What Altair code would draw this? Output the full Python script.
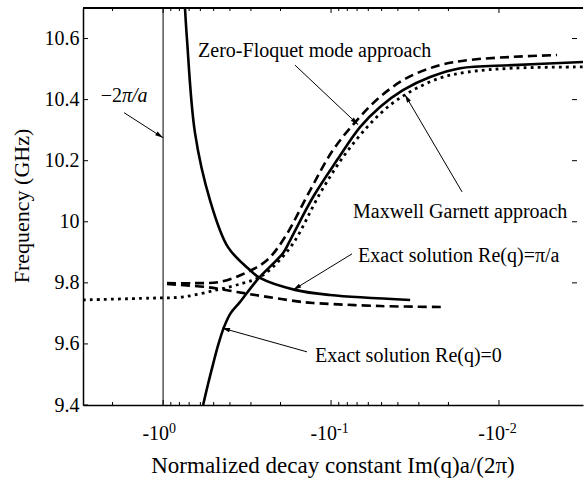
import math
import altair as alt
import pandas as pd

W, H = 500, 397
XMIN, XMAX = 0.00316, 3.0
YMIN, YMAX = 9.4, 10.7
FONT = "Liberation Serif, Times New Roman, DejaVu Serif, serif"

# ---- curve data: x = |Im(q) a / (2 pi)|, f = frequency (GHz) ----
exact_pi_x = [0.741, 0.721, 0.646, 0.526, 0.411, 0.304, 0.265, 0.164, 0.1014, 0.0338]
exact_pi_f = [10.700, 10.598, 10.291, 10.071, 9.917, 9.842, 9.816, 9.777, 9.760, 9.744]

exact_0_x = [0.578, 0.540, 0.504, 0.468, 0.434, 0.397, 0.350, 0.272, 0.193, 0.175, 0.128,
             0.0921, 0.0672, 0.0511, 0.0373, 0.0257, 0.0170, 0.00824, 0.00316]
exact_0_f = [9.400, 9.469, 9.534, 9.600, 9.655, 9.700, 9.736, 9.813, 9.898, 9.940, 10.081,
             10.202, 10.310, 10.376, 10.431, 10.474, 10.503, 10.513, 10.523]

zf_up_x = [0.948, 0.646, 0.458, 0.316, 0.240, 0.188, 0.133, 0.0973, 0.0700, 0.0511,
           0.0353, 0.0224, 0.0149, 0.00824, 0.00451]
zf_up_f = [9.799, 9.799, 9.803, 9.835, 9.875, 9.950, 10.104, 10.235, 10.333, 10.409,
           10.471, 10.513, 10.530, 10.540, 10.546]

zf_low_x = [0.948, 0.548, 0.363, 0.240, 0.147, 0.128, 0.0511, 0.0215]
zf_low_f = [9.796, 9.786, 9.770, 9.754, 9.737, 9.734, 9.724, 9.721]

mg_x = [3.0, 1.197, 0.76, 0.478, 0.334, 0.265, 0.210, 0.166, 0.116, 0.0848, 0.0610,
        0.0445, 0.0325, 0.0224, 0.0155, 0.00824, 0.00316]
mg_f = [9.744, 9.750, 9.754, 9.777, 9.799, 9.819, 9.865, 9.934, 10.094, 10.212, 10.310,
        10.382, 10.431, 10.471, 10.490, 10.503, 10.507]

bound_x = [1.0]  # -2*pi/a

# axis ticks
y_ticks = [9.4, 9.6, 9.8, 10.0, 10.2, 10.4, 10.6]
y_ticks_right = [9.8, 10.0, 10.2, 10.4, 10.6]
x_major = [1.0, 0.1, 0.01]
x_minor = [2.0, 0.9, 0.8, 0.7, 0.6, 0.5, 0.4, 0.3, 0.2,
           0.09, 0.08, 0.07, 0.06, 0.05, 0.04, 0.03, 0.02]
x_exp = ["0", "-1", "-2"]

# annotations
ann_text = ["Zero-Floquet mode approach", "Maxwell Garnett approach",
            "Exact solution Re(q)=\u03c0/a", "Exact solution Re(q)=0"]
ann_tx = [0.619, 0.074, 0.069, 0.1245]
ann_tf = [10.538, 10.013, 9.869, 9.541]

arrow_x0 = [1.706, 0.164, 0.0166, 0.075, 0.139]
arrow_f0 = [10.357, 10.513, 10.098, 9.895, 9.574]
arrow_x1 = [1.0, 0.069, 0.0363, 0.168, 0.446]
arrow_f1 = [10.275, 10.318, 10.416, 9.777, 9.652]

bound_label_a = ["\u22122"]
bound_label_b = ["\u03c0/a"]
bound_lx = [1.757]
bound_lf = [10.392]


def to_px(x):
    return (math.log10(XMAX) - math.log10(x)) / (math.log10(XMAX) - math.log10(XMIN)) * W


def to_py(f):
    return (YMAX - f) / (YMAX - YMIN) * H


def curve(xs, fs, name):
    return pd.DataFrame({"x": xs, "f": fs, "series": name, "i": range(len(xs))})


xscale = alt.Scale(type="log", domain=[XMIN, XMAX], reverse=True)
yscale = alt.Scale(domain=[YMIN, YMAX], nice=False, zero=False)

X = lambda f="x": alt.X(f"{f}:Q", scale=xscale,
                       axis=alt.Axis(labels=False, ticks=False, grid=False, title=None,
                                     domainColor="black", domainWidth=1.5))
Y = lambda f="f": alt.Y(f"{f}:Q", scale=yscale,
                       axis=alt.Axis(values=y_ticks, format="~g", ticks=False, grid=False,
                                     title=None, labelFont=FONT, labelFontSize=20,
                                     labelColor="black", labelPadding=4,
                                     domainColor="black", domainWidth=1.5))

solid_df = pd.concat([curve(exact_pi_x, exact_pi_f, "pi"), curve(exact_0_x, exact_0_f, "zero")])
dash_df = pd.concat([curve(zf_up_x, zf_up_f, "up"), curve(zf_low_x, zf_low_f, "low")])
dot_df = curve(mg_x, mg_f, "mg")

INTERP = "catmull-rom"
solid = alt.Chart(solid_df).mark_line(color="black", strokeWidth=2.6, interpolate=INTERP).encode(
    x=X(), y=Y(), detail="series:N", order="i:Q")
dashed = alt.Chart(dash_df).mark_line(color="black", strokeWidth=2.6, strokeDash=[9, 5],
                                      interpolate=INTERP).encode(
    x=X(), y=Y(), detail="series:N", order="i:Q")
dotted = alt.Chart(dot_df).mark_line(color="black", strokeWidth=2.8, strokeDash=[2.8, 4.2],
                                     interpolate=INTERP).encode(
    x=X(), y=Y(), order="i:Q")

bound = alt.Chart(pd.DataFrame({"x": bound_x})).mark_rule(color="#555555", strokeWidth=1.5).encode(
    x=X(), y=alt.value(0), y2=alt.value(H))

# frame top line
top = alt.Chart(pd.DataFrame({"x": [XMAX]})).mark_rule(color="black", strokeWidth=2).encode(
    x=alt.value(0), x2=alt.value(W), y=alt.value(0))

# ticks (inward)
xmaj = pd.DataFrame({"x": x_major})
xmin_df = pd.DataFrame({"x": x_minor})
tick_layers = [
    alt.Chart(xmaj).mark_rule(color="black", strokeWidth=1).encode(x=X(), y=alt.value(H), y2=alt.value(H - 5)),
    alt.Chart(xmaj).mark_rule(color="black", strokeWidth=1).encode(x=X(), y=alt.value(0), y2=alt.value(5)),
    alt.Chart(xmin_df).mark_rule(color="black", strokeWidth=1).encode(x=X(), y=alt.value(H), y2=alt.value(H - 3)),
    alt.Chart(xmin_df).mark_rule(color="black", strokeWidth=1).encode(x=X(), y=alt.value(0), y2=alt.value(3)),
    alt.Chart(pd.DataFrame({"f": y_ticks})).mark_rule(color="black", strokeWidth=1).encode(
        y=Y(), x=alt.value(0), x2=alt.value(5)),
    alt.Chart(pd.DataFrame({"f": y_ticks_right})).mark_rule(color="black", strokeWidth=1).encode(
        y=Y(), x=alt.value(489), x2=alt.value(494)),
]

# x tick labels -10^n
lab_df = pd.DataFrame({"x": x_major, "base": ["-10"] * 3, "exp": x_exp})
lab_base = alt.Chart(lab_df).mark_text(font=FONT, fontSize=20, align="right", baseline="alphabetic",
                                       dx=6, color="black").encode(
    x=X(), y=alt.value(432), text="base:N")
lab_exp = alt.Chart(lab_df).mark_text(font=FONT, fontSize=14, align="left", baseline="alphabetic",
                                      dx=6, color="black").encode(
    x=X(), y=alt.value(425), text="exp:N")

# axis titles
xtitle = alt.Chart(pd.DataFrame({"t": ["Normalized decay constant  Im(q)a/(2\u03c0)"]})).mark_text(
    font=FONT, fontSize=23, align="center", baseline="alphabetic", color="black").encode(
    x=alt.value(W / 2), y=alt.value(465), text="t:N")
ytitle = alt.Chart(pd.DataFrame({"t": ["Frequency (GHz)"]})).mark_text(
    font=FONT, fontSize=22, align="center", baseline="middle", angle=270, color="black").encode(
    x=alt.value(-61), y=alt.value(198), text="t:N")

# annotations
ann_df = pd.DataFrame({"x": ann_tx, "f": ann_tf, "t": ann_text})
ann = alt.Chart(ann_df).mark_text(font=FONT, fontSize=20, align="left", baseline="alphabetic",
                                  color="black").encode(x=X(), y=Y(), text="t:N")
bl_a = alt.Chart(pd.DataFrame({"x": bound_lx, "f": bound_lf, "t": bound_label_a})).mark_text(
    font=FONT, fontSize=20, align="right", baseline="alphabetic", color="black").encode(
    x=X(), y=Y(), text="t:N")
bl_b = alt.Chart(pd.DataFrame({"x": bound_lx, "f": bound_lf, "t": bound_label_b})).mark_text(
    font=FONT, fontSize=20, fontStyle="italic", align="left", baseline="alphabetic",
    color="black").encode(x=X(), y=Y(), text="t:N")

angles = []
for a0, b0, a1, b1 in zip(arrow_x0, arrow_f0, arrow_x1, arrow_f1):
    dxp = to_px(a1) - to_px(a0)
    dyp = to_py(b1) - to_py(b0)
    angles.append(math.degrees(math.atan2(dyp, dxp)) % 360)
arr_df = pd.DataFrame({"x": arrow_x0, "f": arrow_f0, "x2": arrow_x1, "f2": arrow_f1, "ang": angles})
arr_lines = alt.Chart(arr_df).mark_rule(color="black", strokeWidth=1).encode(
    x=X(), y=Y(), x2="x2:Q", y2="f2:Q")
arr_heads = alt.Chart(arr_df).mark_point(shape="M0,0L-2,-0.55L-2,0.55Z", filled=True, color="black",
                                         opacity=1, size=64).encode(
    x=X("x2"), y=Y("f2"), angle=alt.Angle("ang:Q", scale=None))

chart = alt.layer(
    bound, dotted, dashed, solid, top, *tick_layers, lab_base, lab_exp, xtitle, ytitle,
    ann, bl_a, bl_b, arr_lines, arr_heads
).properties(
    width=W, height=H,
    padding={"left": 83, "top": 8, "right": 1, "bottom": 75},
    autosize=alt.AutoSizeParams(type="none"),
    background="white",
).configure_view(stroke=None)

chart.save("out.html", embed_options={"renderer": "svg", "actions": False})
